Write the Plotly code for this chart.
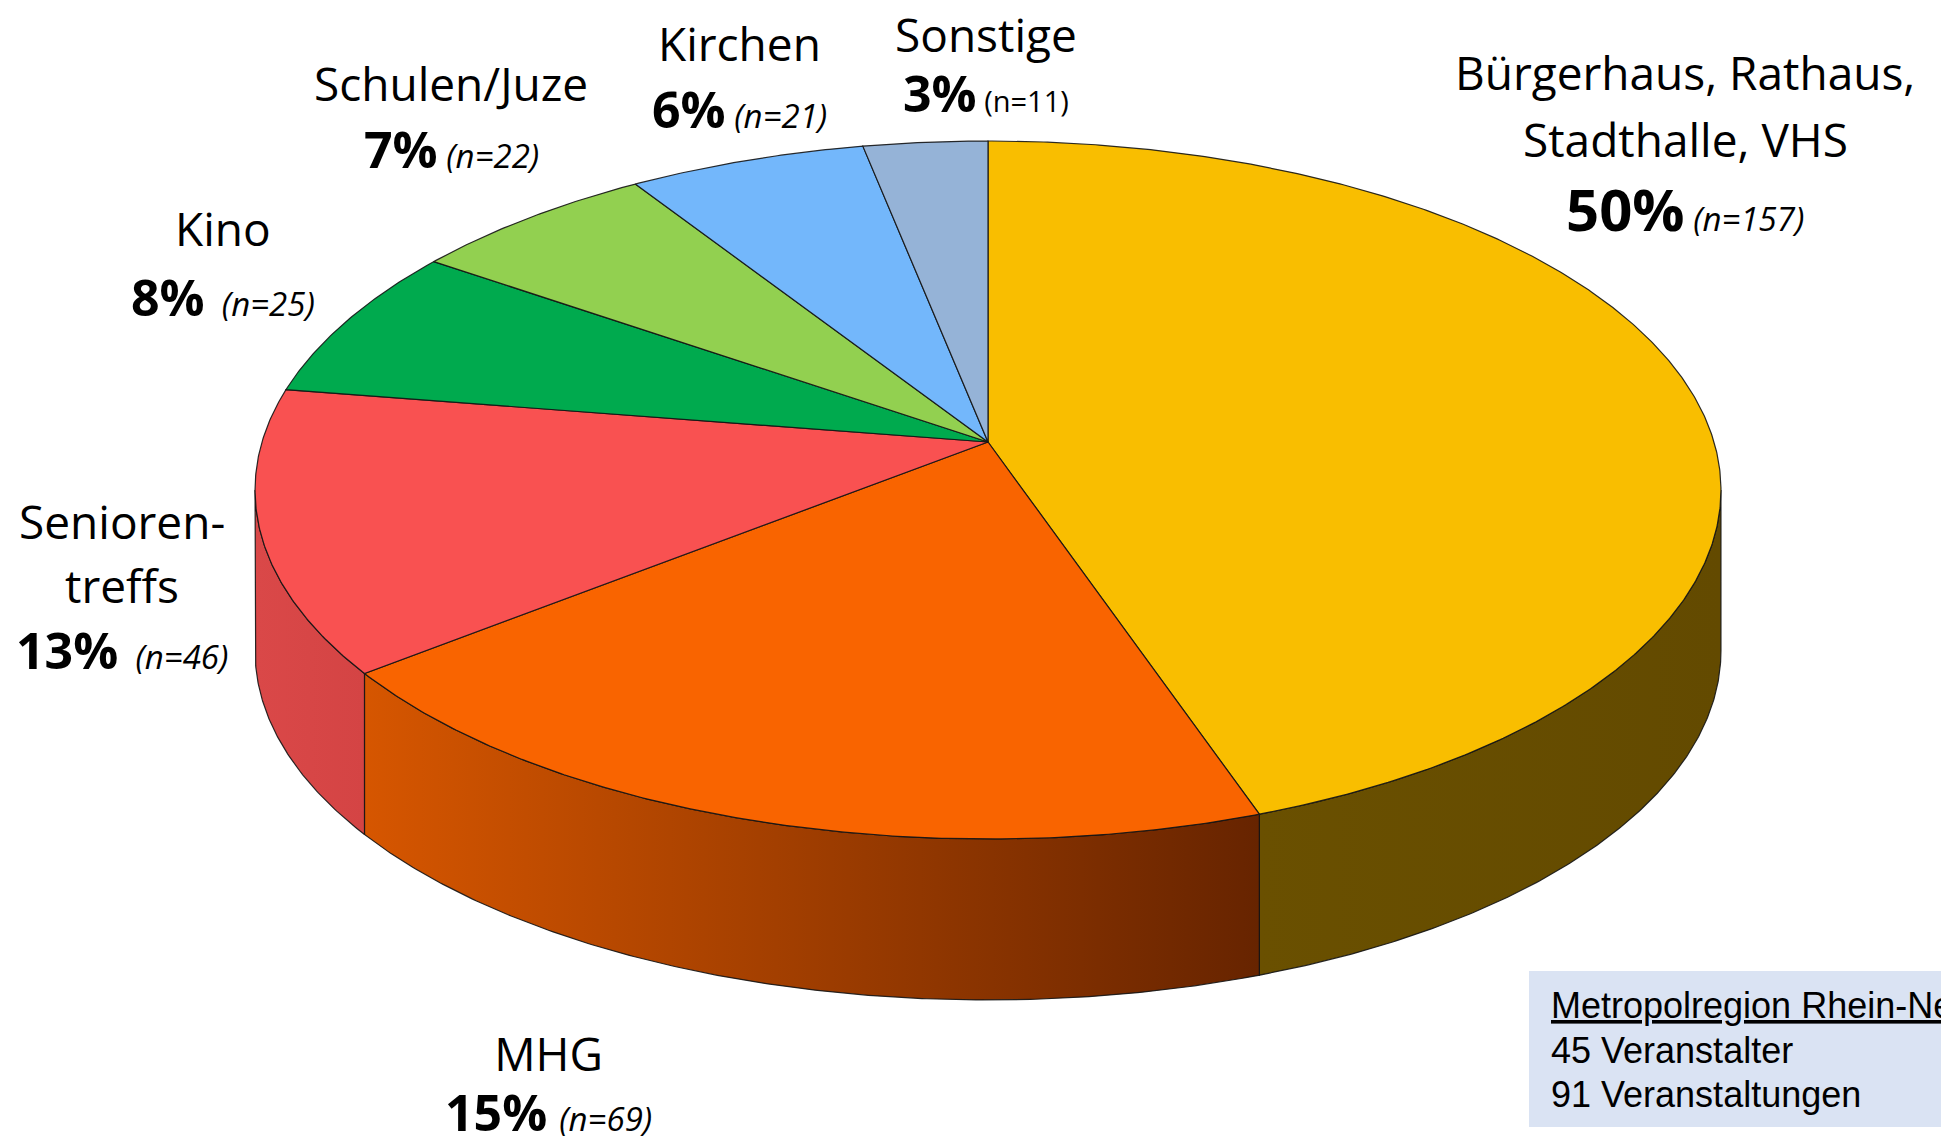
import numpy as np
import plotly.graph_objects as go

# ---------------- data ----------------
categories = ["Bürgerhaus, Rathaus, Stadthalle, VHS", "MHG", "Seniorentreffs",
              "Kino", "Schulen/Juze", "Kirchen", "Sonstige"]
counts = [157, 69, 46, 25, 22, 21, 11]
percent_labels = ["50%", "15%", "13%", "8%", "7%", "6%", "3%"]
name_lines = [["Bürgerhaus, Rathaus,", "Stadthalle, VHS"], ["MHG"], ["Senioren-", "treffs"],
              ["Kino"], ["Schulen/Juze"], ["Kirchen"], ["Sonstige"]]
info_title = "Metropolregion Rhein-Neckar"
info_lines = ["45 Veranstalter", "91 Veranstaltungen"]

# ---------------- styles ----------------
top_colors = ["#F9BE00", "#F96400", "#F95151", "#00AA4E", "#92D050", "#73B7FB", "#95B3D7"]
side_colors = [("#6A5000", "#634A00"), ("#D65600", "#672400"), ("#DA4848", "#D44444"),
               ("#007A38", "#007A38"), ("#6A9A3A", "#6A9A3A"), ("#5088C0", "#5088C0"),
               ("#7088A8", "#7088A8")]
FONT = "Open Sans, Lato, sans-serif"

# label layout (pixel positions)
label_x = [1685, 548, 122, 223, 451, 739, 986]
name_y = [[72, 139], [1060], [521, 585], [228], [83], [43], [27]]
pct_y = [208, 1124, 650, 297, 149, 109, 93]
pct_size = [58, 50, 50, 50, 50, 50, 50]
n_size = [33, 33, 33, 33, 33, 33, 29]
n_gap = [" ", " ", "\u00a0\u00a0", "\u00a0\u00a0", " ", " ", " "]
n_italic = [True, True, True, True, True, True, False]
NAME_SIZE = 46

# perspective geometry of the pie (pixels)
X0, Y0 = 988, 442
A, B, K = 726, 342.4, 0.1375
DEPTH = 161


def proj(theta_deg):
    th = np.radians(theta_deg)
    u, v = np.sin(th), np.cos(th)
    w = 1 + K * v
    return X0 + A * u / w, Y0 - B * v / w


total = sum(counts)
bounds = np.concatenate([[0], np.cumsum(counts) / total * 360.0])

fig = go.Figure()

# side walls (front visible part)
front_r = np.degrees(np.arccos(-K))
front_l = 360 - front_r
for i in range(len(counts)):
    lo, hi = max(bounds[i], front_r), min(bounds[i + 1], front_l)
    if hi <= lo:
        continue
    t = np.linspace(lo, hi, max(int((hi - lo) * 3), 4))
    xt, yt = proj(t)
    xs = np.concatenate([xt, xt[::-1], xt[:1]])
    ys = np.concatenate([yt, (yt + DEPTH)[::-1], yt[:1]])
    c0, c1 = side_colors[i]
    fig.add_trace(go.Scatter(
        x=xs, y=ys, mode="lines", fill="toself",
        fillgradient=dict(type="horizontal", colorscale=[[0, c0], [1, c1]]),
        line=dict(color="rgba(20,20,20,0.9)", width=1.2),
        hoverinfo="skip", showlegend=False))

# top faces
for i in range(len(counts)):
    a0, a1 = bounds[i], bounds[i + 1]
    t = np.linspace(a0, a1, max(int((a1 - a0) * 3), 4))
    xt, yt = proj(t)
    xs = np.concatenate([[X0], xt, [X0]])
    ys = np.concatenate([[Y0], yt, [Y0]])
    fig.add_trace(go.Scatter(
        x=xs, y=ys, mode="lines", fill="toself", fillcolor=top_colors[i],
        line=dict(color="rgba(20,20,20,0.9)", width=1.2),
        name=categories[i], hoverinfo="name", showlegend=False))


def pct_text(i):
    ntxt = f"(n={counts[i]})"
    if n_italic[i]:
        ntxt = f"<i>{ntxt}</i>"
    return (f"<span style='font-size:{pct_size[i]}px'><b>{percent_labels[i]}</b></span>"
            f"{n_gap[i]}<span style='font-size:{n_size[i]}px'>{ntxt}</span>")


# labels
annotations = []
for i in range(len(counts)):
    if pct_y[i] > 1100:
        # label at the bottom edge: one block, anchored to the bottom
        txt = "<br>".join(name_lines[i] + [pct_text(i)])
        annotations.append(dict(x=label_x[i], y=1147, text=txt, showarrow=False,
                                xanchor="center", yanchor="bottom", borderpad=0,
                                font=dict(family=FONT, size=NAME_SIZE, color="black")))
        continue
    for line, y in zip(name_lines[i], name_y[i]):
        if y < 40:
            ya, yy = "top", 1
        else:
            ya, yy = "middle", y
        annotations.append(dict(x=label_x[i], y=yy, text=line, showarrow=False,
                                xanchor="center", yanchor=ya,
                                font=dict(family=FONT, size=NAME_SIZE, color="black")))
    annotations.append(dict(x=label_x[i], y=pct_y[i], text=pct_text(i), showarrow=False,
                            xanchor="center", yanchor="middle",
                            font=dict(family=FONT, size=n_size[i], color="black")))

# info box
info_x = 1549
info_y = [1005, 1050, 1094]
for txt, y in zip([f"<u>{info_title}</u>"] + info_lines, info_y):
    annotations.append(dict(x=info_x, y=y, text=txt, showarrow=False,
                            xanchor="left", yanchor="middle",
                            font=dict(family="Liberation Sans, Arial, sans-serif",
                                      size=36, color="black")))

fig.update_layout(
    width=1941, height=1147,
    margin=dict(l=0, r=0, t=0, b=0),
    paper_bgcolor="white", plot_bgcolor="white",
    xaxis=dict(range=[0, 1941], visible=False, fixedrange=True),
    yaxis=dict(range=[1147, 0], visible=False, fixedrange=True),
    shapes=[dict(type="rect", xref="x", yref="y", x0=1529, x1=1990, y0=971, y1=1127,
                 fillcolor="#DAE3F3", line=dict(width=0), layer="below")],
    annotations=annotations,
)

fig.write_html("out.html", config={"displayModeBar": False},
               post_script="document.body.style.margin='0';document.body.style.overflow='hidden';")
